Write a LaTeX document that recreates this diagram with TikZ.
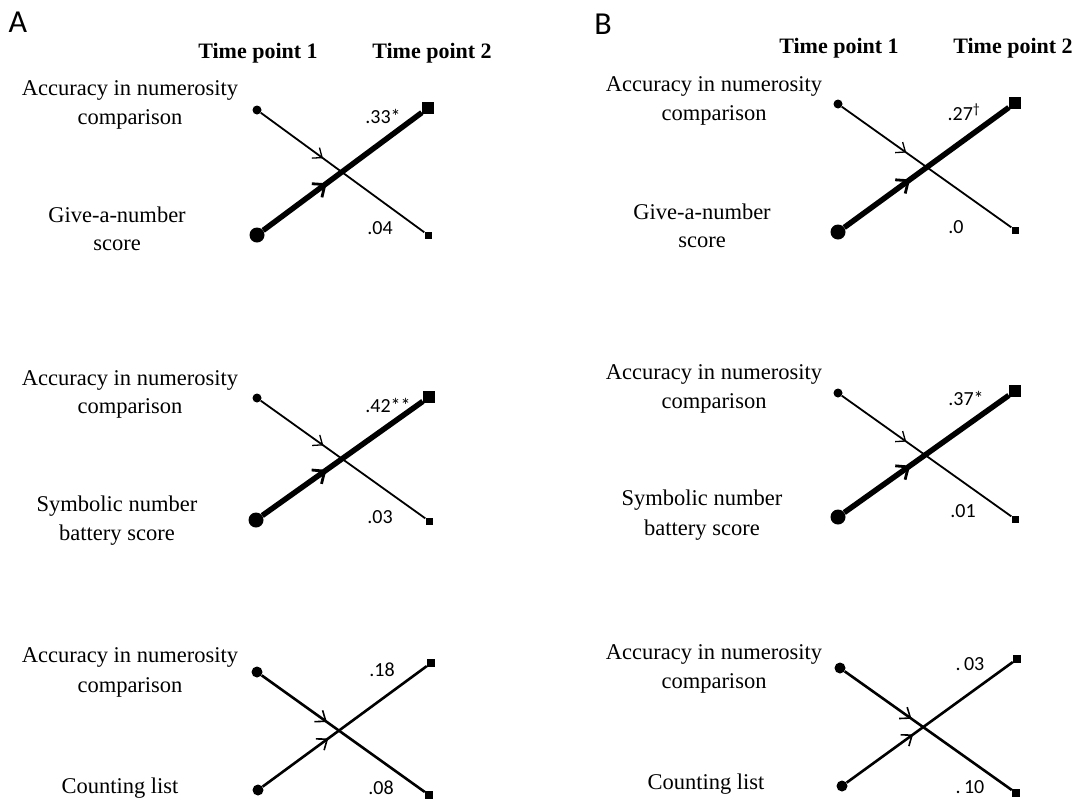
\documentclass[tikz,border=0pt]{standalone}
\usepackage{fontspec}
\setmainfont{Liberation Serif}
\newfontfamily\calfont{Carlito}
\usetikzlibrary{arrows.meta,decorations.markings}

\tikzset{
 lbl/.style={font=\fontsize{22.5}{26}\selectfont, inner sep=0pt, align=center},
 hdr/.style={font=\fontsize{22}{26}\selectfont\bfseries, inner sep=0pt},
 num/.style={font=\calfont\fontsize{20}{22}\selectfont, inner sep=0pt},
 panel/.style={font=\calfont\fontsize{32}{36}\selectfont, inner sep=0pt},
 dotS/.style={circle, fill, inner sep=0pt, minimum size=9pt},
 dotL/.style={circle, fill, inner sep=0pt, minimum size=15pt},
 dotM/.style={circle, fill, inner sep=0pt, minimum size=11pt},
 sqS/.style={rectangle, fill, inner sep=0pt, minimum size=7pt},
 sqL/.style={rectangle, fill, inner sep=0pt, minimum size=12pt},
 sqM/.style={rectangle, fill, inner sep=0pt, minimum size=8pt},
 thinln/.style={line width=1.8pt, postaction={decorate}, decoration={markings, mark=at position 0.38 with {\arrow{Straight Barb[length=8pt,width=13pt,line width=1.3pt]}}}},
 thickln/.style={line width=5.5pt, postaction={decorate}, decoration={markings, mark=at position 0.4 with {\arrow{Straight Barb[length=10pt,width=17pt,line width=2.8pt]}}}},
 medln/.style={line width=2.6pt, postaction={decorate}, decoration={markings, mark=at position 0.4 with {\arrow{Straight Barb[length=9pt,width=14pt,line width=1.6pt]}}}},
}

\begin{document}
\begin{tikzpicture}[x=1pt,y=-1pt]
\useasboundingbox (0,0) rectangle (1076,801);

% ---------- Panel A ----------
\node[panel] (pA) at (18,22) {A};
\node[hdr] (hA1) at (258,53) {Time point 1};
\node[hdr] (hA2) at (432,53) {Time point 2};

% A1
\node[lbl] (a1t1) at (130,90) {Accuracy in numerosity};
\node[lbl] (a1t2) at (130,119) {comparison};
\node[lbl] (a1b1) at (117,215) {Give-a-number};
\node[lbl] (a1b2) at (117,245) {score};
\node[dotS] (a1TL) at (257,110) {};
\node[dotL] (a1BL) at (257,235) {};
\node[sqL] (a1TR) at (428,108) {};
\node[sqS] (a1BR) at (428,235) {};
\draw[thinln] (a1TL) -- (a1BR);
\draw[thickln] (a1BL) -- (a1TR);
\node[num] (a1n1) at (383,116) {.33*};
\node[num] (a1n2) at (380,228) {.04};

% A2
\node[lbl] (a2t1) at (130,380) {Accuracy in numerosity};
\node[lbl] (a2t2) at (130,408) {comparison};
\node[lbl] (a2b1) at (117,506) {Symbolic number};
\node[lbl] (a2b2) at (117,535) {battery score};
\node[dotS] (a2TL) at (257,398) {};
\node[dotL] (a2BL) at (256,520) {};
\node[sqL] (a2TR) at (429,397) {};
\node[sqS] (a2BR) at (429,521) {};
\draw[thinln] (a2TL) -- (a2BR);
\draw[thickln] (a2BL) -- (a2TR);
\node[num] (a2n1) at (388,405) {.42**};
\node[num] (a2n2) at (380,517) {.03};

% A3
\node[lbl] (a3t1) at (130,657) {Accuracy in numerosity};
\node[lbl] (a3t2) at (130,687) {comparison};
\node[lbl] (a3b1) at (120,788) {Counting list};
\node[dotM] (a3TL) at (257,672) {};
\node[dotM] (a3BL) at (258,790) {};
\node[sqM] (a3TR) at (431,663) {};
\node[sqM] (a3BR) at (429,795) {};
\draw[medln] (a3TL) -- (a3BR);
\draw[medln] (a3BL) -- (a3TR);
\node[num] (a3n1) at (382,670) {.18};
\node[num] (a3n2) at (381,788) {.08};

% ---------- Panel B ----------
\node[panel] (pB) at (603,24) {B};
\node[hdr] (hB1) at (839,48) {Time point 1};
\node[hdr] (hB2) at (1013,48) {Time point 2};

% B1
\node[lbl] (b1t1) at (714,86) {Accuracy in numerosity};
\node[lbl] (b1t2) at (714,115) {comparison};
\node[lbl] (b1b1) at (702,212) {Give-a-number};
\node[lbl] (b1b2) at (702,242) {score};
\node[dotS] (b1TL) at (838,104) {};
\node[dotL] (b1BL) at (838,232) {};
\node[sqL] (b1TR) at (1015,103) {};
\node[sqS] (b1BR) at (1015,230) {};
\draw[thinln] (b1TL) -- (b1BR);
\draw[thickln] (b1BL) -- (b1TR);
\node[num] (b1n1) at (964,112) {.27\textsuperscript{†}};
\node[num] (b1n2) at (956,227) {.0};

% B2
\node[lbl] (b2t1) at (714,374) {Accuracy in numerosity};
\node[lbl] (b2t2) at (714,403) {comparison};
\node[lbl] (b2b1) at (702,500) {Symbolic number};
\node[lbl] (b2b2) at (702,530) {battery score};
\node[dotS] (b2TL) at (838,393) {};
\node[dotL] (b2BL) at (838,517) {};
\node[sqL] (b2TR) at (1015,391) {};
\node[sqS] (b2BR) at (1015,519) {};
\draw[thinln] (b2TL) -- (b2BR);
\draw[thickln] (b2BL) -- (b2TR);
\node[num] (b2n1) at (966,398) {.37*};
\node[num] (b2n2) at (963,511) {.01};

% B3
\node[lbl] (b3t1) at (714,654) {Accuracy in numerosity};
\node[lbl] (b3t2) at (714,683) {comparison};
\node[lbl] (b3b1) at (706,784) {Counting list};
\node[dotM] (b3TL) at (840,668) {};
\node[dotM] (b3BL) at (842,786) {};
\node[sqM] (b3TR) at (1017,659) {};
\node[sqM] (b3BR) at (1016,793) {};
\draw[medln] (b3TL) -- (b3BR);
\draw[medln] (b3BL) -- (b3TR);
\node[num] (b3n1) at (970,664) {.\,03};
\node[num] (b3n2) at (970,787) {.\,10};
\end{tikzpicture}
\end{document}
